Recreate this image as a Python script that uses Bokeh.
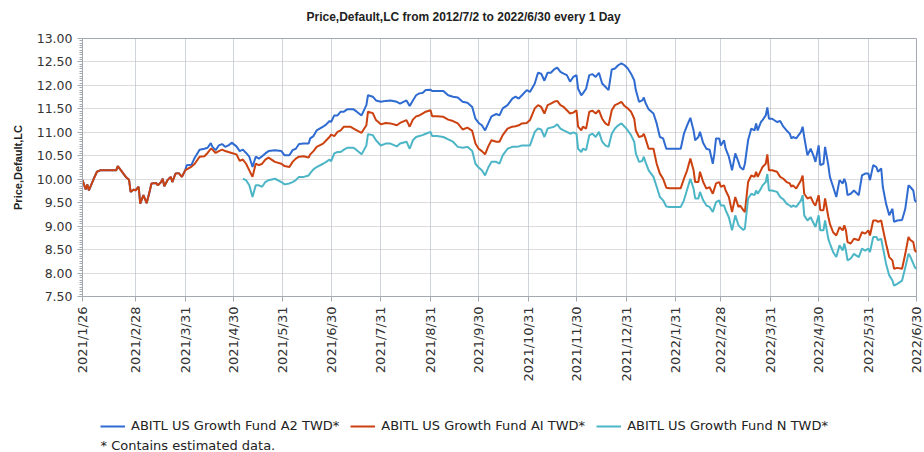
import math
from datetime import datetime
import pandas as pd
import numpy as np
from bokeh.plotting import figure
from bokeh.layouts import column
from bokeh.models import (ColumnDataSource, FixedTicker, SingleIntervalTicker, Legend, LegendItem,
                          Label, NumeralTickFormatter, Range1d)
from bokeh.embed import file_html
from bokeh.resources import INLINE

title_text = "Price,Default,LC from 2012/7/2 to 2022/6/30 every 1 Day"
y_title = "Price,Default,LC"
series_names = ["ABITL US Growth Fund A2 TWD*", "ABITL US Growth Fund AI TWD*", "ABITL US Growth Fund N TWD*"]
footnote = "*  Contains estimated data."

tick_dates = ["2021-01-26", "2021-02-28", "2021-03-31", "2021-04-30", "2021-05-31", "2021-06-30",
              "2021-07-31", "2021-08-31", "2021-09-30", "2021-10-31", "2021-11-30", "2021-12-31",
              "2022-01-31", "2022-02-28", "2022-03-31", "2022-04-30", "2022-05-31", "2022-06-30"]
tick_labels = ["2021/1/26", "2021/2/28", "2021/3/31", "2021/4/30", "2021/5/31", "2021/6/30",
               "2021/7/31", "2021/8/31", "2021/9/30", "2021/10/31", "2021/11/30", "2021/12/31",
               "2022/1/31", "2022/2/28", "2022/3/31", "2022/4/30", "2022/5/31", "2022/6/30"]

dates = [
    "2021-01-26", "2021-01-28", "2021-01-29", "2021-01-30",
    "2021-02-02", "2021-02-04", "2021-02-06", "2021-02-11", "2021-02-16", "2021-02-17", "2021-02-19", "2021-02-22", "2021-02-24", "2021-02-25", "2021-02-27", "2021-02-28",
    "2021-03-02", "2021-03-03", "2021-03-05", "2021-03-07", "2021-03-09", "2021-03-10", "2021-03-13", "2021-03-14", "2021-03-16", "2021-03-17", "2021-03-18", "2021-03-20", "2021-03-22", "2021-03-23", "2021-03-25", "2021-03-27", "2021-03-29", "2021-03-31",
    "2021-04-01", "2021-04-04", "2021-04-06", "2021-04-09", "2021-04-12", "2021-04-14", "2021-04-16", "2021-04-17", "2021-04-19", "2021-04-21", "2021-04-23", "2021-04-25", "2021-04-27", "2021-04-29",
    "2021-05-02", "2021-05-04", "2021-05-06", "2021-05-08", "2021-05-10", "2021-05-12", "2021-05-14", "2021-05-16", "2021-05-18", "2021-05-20", "2021-05-22", "2021-05-26", "2021-05-30",
    "2021-06-01", "2021-06-04", "2021-06-06", "2021-06-08", "2021-06-10", "2021-06-13", "2021-06-16", "2021-06-17", "2021-06-19", "2021-06-21", "2021-06-25", "2021-06-27", "2021-06-29", "2021-06-30",
    "2021-07-02", "2021-07-04", "2021-07-06", "2021-07-08", "2021-07-10", "2021-07-12", "2021-07-14", "2021-07-16", "2021-07-19", "2021-07-22", "2021-07-23", "2021-07-26", "2021-07-28", "2021-07-31",
    "2021-08-03", "2021-08-06", "2021-08-10", "2021-08-12", "2021-08-16", "2021-08-18", "2021-08-20", "2021-08-22", "2021-08-24", "2021-08-26", "2021-08-28", "2021-08-31",
    "2021-09-01", "2021-09-04", "2021-09-08", "2021-09-11", "2021-09-14", "2021-09-17", "2021-09-20", "2021-09-23", "2021-09-26", "2021-09-28", "2021-09-30",
    "2021-10-02", "2021-10-04", "2021-10-06", "2021-10-08", "2021-10-11", "2021-10-13", "2021-10-15", "2021-10-18", "2021-10-21", "2021-10-23", "2021-10-25", "2021-10-27", "2021-10-30",
    "2021-11-01", "2021-11-04", "2021-11-06", "2021-11-08", "2021-11-10", "2021-11-12", "2021-11-14", "2021-11-16", "2021-11-18", "2021-11-20", "2021-11-22", "2021-11-24", "2021-11-26", "2021-11-28", "2021-11-30",
    "2021-12-01", "2021-12-03", "2021-12-04", "2021-12-06", "2021-12-08", "2021-12-10", "2021-12-12", "2021-12-14", "2021-12-16", "2021-12-18", "2021-12-20", "2021-12-22", "2021-12-24", "2021-12-26", "2021-12-28", "2021-12-30",
    "2022-01-01", "2022-01-03", "2022-01-05", "2022-01-06", "2022-01-08", "2022-01-10", "2022-01-11", "2022-01-12", "2022-01-14", "2022-01-17", "2022-01-19", "2022-01-21", "2022-01-23", "2022-01-25", "2022-01-27", "2022-01-31",
    "2022-02-03", "2022-02-05", "2022-02-07", "2022-02-09", "2022-02-11", "2022-02-12", "2022-02-14", "2022-02-15", "2022-02-17", "2022-02-19", "2022-02-21", "2022-02-23", "2022-02-24", "2022-02-25", "2022-02-27", "2022-02-28",
    "2022-03-02", "2022-03-03", "2022-03-05", "2022-03-07", "2022-03-09", "2022-03-11", "2022-03-12", "2022-03-14", "2022-03-15", "2022-03-17", "2022-03-19", "2022-03-21", "2022-03-22", "2022-03-23", "2022-03-25", "2022-03-26", "2022-03-28", "2022-03-29", "2022-03-30",
    "2022-04-01", "2022-04-04", "2022-04-06", "2022-04-08", "2022-04-10", "2022-04-12", "2022-04-13", "2022-04-14", "2022-04-16", "2022-04-19", "2022-04-20", "2022-04-21", "2022-04-23", "2022-04-25", "2022-04-27", "2022-04-28", "2022-04-30",
    "2022-05-01", "2022-05-03", "2022-05-04", "2022-05-06", "2022-05-07", "2022-05-09", "2022-05-11", "2022-05-13", "2022-05-15", "2022-05-16", "2022-05-17", "2022-05-18", "2022-05-20", "2022-05-22", "2022-05-25", "2022-05-27", "2022-05-29", "2022-05-31",
    "2022-06-01", "2022-06-03", "2022-06-05", "2022-06-06", "2022-06-08", "2022-06-09", "2022-06-11", "2022-06-13", "2022-06-15", "2022-06-16", "2022-06-18", "2022-06-21", "2022-06-23", "2022-06-25", "2022-06-26", "2022-06-28", "2022-06-29", "2022-06-30",
]

a2 = [
    9.98, 9.78, 9.89, 9.76,
    10.01, 10.16, 10.19, 10.19, 10.19, 10.28, 10.19, 10.05, 9.99, 9.73, 9.78, 9.76,
    9.84, 9.48, 9.66, 9.49, 9.76, 9.91, 9.92, 9.87, 9.94, 10.01, 9.85, 9.98, 10.05, 9.94, 10.12, 10.13, 10.05, 10.19,
    10.30, 10.31, 10.46, 10.63, 10.65, 10.67, 10.77, 10.69, 10.62, 10.72, 10.75, 10.69, 10.72, 10.78,
    10.70, 10.60, 10.63, 10.56, 10.48, 10.26, 10.48, 10.44, 10.49, 10.55, 10.60, 10.62, 10.60,
    10.51, 10.51, 10.62, 10.65, 10.75, 10.76, 10.76, 10.87, 10.92, 11.04, 11.12, 11.17, 11.24, 11.22,
    11.36, 11.36, 11.44, 11.44, 11.49, 11.49, 11.49, 11.44, 11.36, 11.58, 11.79, 11.76, 11.68, 11.65,
    11.67, 11.68, 11.65, 11.61, 11.68, 11.56, 11.68, 11.79, 11.83, 11.84, 11.90, 11.91,
    11.88, 11.88, 11.88, 11.79, 11.76, 11.74, 11.65, 11.63, 11.54, 11.29, 11.20,
    11.15, 11.04, 11.19, 11.34, 11.39, 11.36, 11.51, 11.58, 11.72, 11.76, 11.72, 11.79, 11.90,
    11.86, 12.04, 12.27, 12.25, 12.10, 12.27, 12.27, 12.34, 12.38, 12.29, 12.25, 12.22, 12.08, 12.18, 12.22,
    11.93, 11.79, 11.83, 11.93, 12.22, 12.24, 12.18, 12.27, 12.04, 11.97, 11.90, 12.34, 12.36, 12.43, 12.47, 12.43,
    12.36, 12.25, 12.11, 11.90, 11.65, 11.68, 11.74, 11.63, 11.49, 11.40, 11.19, 10.90, 10.87, 10.65, 10.65, 10.65,
    10.65, 10.97, 11.15, 11.31, 11.04, 10.83, 10.90, 11.01, 10.77, 10.65, 10.63, 10.33, 10.55, 10.87, 10.87, 10.72,
    10.83, 10.65, 10.48, 10.19, 10.55, 10.37, 10.26, 10.20, 10.33, 10.83, 11.08, 11.04, 11.19, 11.04, 11.22, 11.26, 11.36, 11.53, 11.29,
    11.29, 11.22, 11.24, 11.12, 11.04, 10.97, 10.87, 10.90, 10.87, 11.01, 11.12, 10.90, 10.51, 10.65, 10.48, 10.37, 10.72,
    10.30, 10.33, 10.69, 10.30, 10.05, 9.84, 9.62, 9.98, 9.91, 10.01, 9.91, 9.66, 9.69, 9.76, 9.66, 10.08, 10.12, 10.12,
    9.98, 10.30, 10.26, 10.16, 10.23, 9.84, 9.48, 9.23, 9.37, 9.09, 9.12, 9.13, 9.37, 9.87, 9.84, 9.76, 9.55, 9.51,
]

ai = [
    9.98, 9.78, 9.89, 9.76,
    10.01, 10.16, 10.19, 10.19, 10.19, 10.28, 10.19, 10.05, 9.99, 9.73, 9.78, 9.76,
    9.84, 9.48, 9.66, 9.49, 9.76, 9.91, 9.92, 9.87, 9.94, 10.01, 9.85, 9.98, 10.05, 9.94, 10.12, 10.13, 10.05, 10.19,
    10.21, 10.27, 10.33, 10.48, 10.49, 10.56, 10.65, 10.63, 10.56, 10.60, 10.63, 10.60, 10.58, 10.56,
    10.53, 10.39, 10.42, 10.33, 10.19, 10.05, 10.33, 10.30, 10.33, 10.42, 10.46, 10.37, 10.33,
    10.28, 10.26, 10.37, 10.44, 10.48, 10.49, 10.46, 10.53, 10.60, 10.69, 10.76, 10.83, 10.90, 10.95,
    10.92, 11.01, 11.04, 11.12, 11.12, 11.12, 11.08, 11.04, 10.99, 11.15, 11.44, 11.41, 11.26, 11.17,
    11.20, 11.19, 11.15, 11.20, 11.26, 11.12, 11.27, 11.34, 11.36, 11.40, 11.44, 11.47,
    11.34, 11.34, 11.33, 11.27, 11.24, 11.19, 11.06, 11.10, 11.03, 10.76, 10.65,
    10.60, 10.53, 10.70, 10.83, 10.80, 10.80, 10.94, 11.08, 11.12, 11.13, 11.15, 11.19, 11.20,
    11.26, 11.51, 11.58, 11.54, 11.40, 11.58, 11.61, 11.65, 11.67, 11.58, 11.54, 11.47, 11.40, 11.42, 11.47,
    11.12, 11.04, 11.12, 11.08, 11.44, 11.46, 11.40, 11.47, 11.29, 11.19, 11.15, 11.47, 11.58, 11.61, 11.65, 11.56,
    11.51, 11.44, 11.29, 11.04, 10.90, 10.92, 10.97, 10.87, 10.65, 10.65, 10.33, 10.12, 10.01, 9.82, 9.81, 9.81,
    9.81, 10.01, 10.19, 10.44, 10.19, 9.94, 9.94, 10.16, 9.94, 9.80, 9.83, 9.69, 9.80, 9.91, 9.94, 9.84,
    9.87, 9.76, 9.62, 9.30, 9.62, 9.41, 9.44, 9.34, 9.30, 9.94, 10.08, 10.05, 10.16, 10.05, 10.19, 10.26, 10.33, 10.53, 10.19,
    10.19, 10.16, 10.05, 10.01, 9.94, 9.91, 9.84, 9.87, 9.80, 9.98, 10.08, 9.69, 9.59, 9.62, 9.48, 9.44, 9.66,
    9.34, 9.34, 9.59, 9.20, 9.05, 8.87, 8.80, 8.98, 8.91, 9.02, 8.91, 8.66, 8.63, 8.73, 8.70, 8.87, 8.84, 8.91,
    8.80, 9.12, 9.12, 9.09, 9.12, 8.95, 8.63, 8.34, 8.27, 8.09, 8.11, 8.09, 8.41, 8.77, 8.71, 8.66, 8.48, 8.45,
]

n = [
    None, None, None, None,
    None, None, None, None, None, None, None, None, None, None, None, None,
    None, None, None, None, None, None, None, None, None, None, None, None, None, None, None, None, None, None,
    None, None, None, None, None, None, None, None, None, None, None, None, None, None,
    None, None, 10.01, 9.98, 9.87, 9.62, 9.87, 9.87, 9.84, 9.94, 9.98, 10.01, 9.94,
    9.89, 9.91, 9.94, 9.98, 10.05, 10.05, 10.08, 10.13, 10.21, 10.26, 10.33, 10.37, 10.42, 10.38,
    10.55, 10.58, 10.58, 10.63, 10.67, 10.67, 10.67, 10.62, 10.53, 10.72, 10.96, 10.94, 10.83, 10.72,
    10.76, 10.76, 10.70, 10.76, 10.80, 10.65, 10.83, 10.90, 10.92, 10.94, 10.97, 11.01,
    10.92, 10.92, 10.90, 10.85, 10.80, 10.69, 10.67, 10.69, 10.60, 10.33, 10.25,
    10.19, 10.08, 10.25, 10.37, 10.37, 10.33, 10.51, 10.65, 10.69, 10.69, 10.70, 10.72, 10.72,
    10.72, 11.01, 11.08, 11.06, 10.90, 11.08, 11.10, 11.12, 11.17, 11.08, 11.04, 11.01, 10.97, 11.00, 10.97,
    10.65, 10.58, 10.65, 10.62, 10.94, 10.97, 10.90, 11.01, 10.80, 10.72, 10.69, 10.97, 11.08, 11.15, 11.19, 11.12,
    11.04, 10.94, 10.80, 10.55, 10.37, 10.39, 10.48, 10.37, 10.19, 10.05, 9.84, 9.62, 9.55, 9.42, 9.41, 9.41,
    9.41, 9.55, 9.78, 10.01, 9.80, 9.59, 9.59, 9.73, 9.55, 9.44, 9.41, 9.30, 9.41, 9.51, 9.55, 9.44,
    9.44, 9.34, 9.19, 8.91, 9.23, 9.02, 8.98, 8.92, 8.95, 9.59, 9.69, 9.66, 9.76, 9.69, 9.80, 9.87, 9.94, 10.11, 9.76,
    9.76, 9.73, 9.62, 9.57, 9.48, 9.44, 9.41, 9.44, 9.41, 9.55, 9.66, 9.23, 9.12, 9.19, 9.05, 8.98, 9.23,
    8.91, 8.91, 9.12, 8.73, 8.63, 8.45, 8.34, 8.59, 8.48, 8.63, 8.48, 8.27, 8.31, 8.41, 8.34, 8.52, 8.48, 8.52,
    8.45, 8.77, 8.77, 8.70, 8.73, 8.55, 8.20, 7.95, 7.84, 7.73, 7.77, 7.84, 8.12, 8.41, 8.36, 8.20, 8.12, 8.09,
]

assert len(dates) == len(a2) == len(ai) == len(n), (len(dates), len(a2), len(ai), len(n))

colors = ["#2f6bd0", "#cc4110", "#4cb6c6"]
text_color = "#222222"

src = ColumnDataSource(dict(
    x=pd.to_datetime(dates),
    a2=np.array(a2, dtype=float),
    ai=np.array(ai, dtype=float),
    n=np.array([np.nan if v is None else v for v in n], dtype=float),
))

# ---------- header strip with the title (frames are aligned with the main chart) ----------
head = figure(width=924, height=26, output_backend="svg", toolbar_location=None,
              x_range=Range1d(0, 1), y_range=Range1d(0, 1), min_border=0,
              x_axis_location=None, y_axis_location=None)
head.grid.visible = False
head.outline_line_color = None
head.add_layout(Label(x=224, y=10, x_units="screen", y_units="screen", text=title_text,
                     text_baseline="middle", text_font="Liberation Sans", text_font_size="12px",
                     text_font_style="bold", text_color=text_color))

# ---------- main chart ----------
p = figure(width=924, height=366, x_axis_type="datetime", output_backend="svg", toolbar_location=None,
           x_range=Range1d(datetime(2021, 1, 26), datetime(2022, 6, 30)), y_range=Range1d(7.5, 13.0),
           min_border_left=82, min_border_right=8, min_border_top=12, min_border_bottom=96)

p.background_fill_color = "white"
p.border_fill_color = "white"
p.outline_line_color = "#a4a8b0"

r1 = p.line("x", "a2", source=src, line_color=colors[0], line_width=2)
r2 = p.line("x", "ai", source=src, line_color=colors[1], line_width=2)
r3 = p.line("x", "n", source=src, line_color=colors[2], line_width=2)

tick_ms = [int(pd.Timestamp(d).value // 10**6) for d in tick_dates]
xticker = FixedTicker(ticks=tick_ms)
p.xaxis.ticker = xticker
p.xgrid.ticker = xticker
p.xaxis.major_label_overrides = {ms: lab for ms, lab in zip(tick_ms, tick_labels)}
p.xaxis.major_label_orientation = math.pi / 2
p.xaxis.major_label_text_font = "DejaVu Sans"
p.xaxis.major_label_text_font_size = "13px"
p.xaxis.major_label_text_color = "#333333"
p.xaxis.axis_line_color = "#a4a8b0"
p.xaxis.major_tick_line_color = "#a4a8b0"
p.xaxis.major_tick_out = 5
p.xaxis.major_tick_in = 0
p.xaxis.minor_tick_line_color = None

yticker = SingleIntervalTicker(interval=0.5, num_minor_ticks=10)
p.yaxis.ticker = yticker
p.ygrid.ticker = yticker
p.yaxis.formatter = NumeralTickFormatter(format="0.00")
p.yaxis.axis_label = y_title
p.yaxis.axis_label_text_font = "Liberation Sans"
p.yaxis.axis_label_text_font_size = "11px"
p.yaxis.axis_label_text_font_style = "bold"
p.yaxis.axis_label_text_color = text_color
p.yaxis.axis_label_standoff = 10
p.yaxis.major_label_text_font = "DejaVu Sans"
p.yaxis.major_label_text_font_size = "12.5px"
p.yaxis.major_label_text_color = "#333333"
p.yaxis.axis_line_color = "#a4a8b0"
p.yaxis.major_tick_line_color = "#a4a8b0"
p.yaxis.minor_tick_line_color = "#a4a8b0"
p.yaxis.major_tick_out = 5
p.yaxis.major_tick_in = 0
p.yaxis.minor_tick_out = 3
p.yaxis.minor_tick_in = 0

p.xgrid.grid_line_color = "#9ea6b4"
p.xgrid.grid_line_dash = "1 1"
p.xgrid.grid_line_width = 1
p.ygrid.grid_line_color = "#b8b8b8"
p.ygrid.grid_line_dash = "1 1"
p.ygrid.grid_line_width = 1

# ---------- footer strip with legend and note (frame aligned with the main chart) ----------
foot = figure(width=924, height=60, output_backend="svg", toolbar_location=None,
              x_range=Range1d(0, 1), y_range=Range1d(0, 1), min_border=0,
              x_axis_location=None, y_axis_location=None)
foot.grid.visible = False
foot.outline_line_color = None
nan_src = ColumnDataSource(dict(x=[np.nan], y=[np.nan]))
k1 = foot.line("x", "y", source=nan_src, line_color=colors[0], line_width=2)
k2 = foot.line("x", "y", source=nan_src, line_color=colors[1], line_width=2)
k3 = foot.line("x", "y", source=nan_src, line_color=colors[2], line_width=2)

legend = Legend(items=[LegendItem(label=series_names[0], renderers=[k1]),
                       LegendItem(label=series_names[1], renderers=[k2]),
                       LegendItem(label=series_names[2], renderers=[k3])],
                orientation="horizontal", location=(18, 19),
                glyph_width=25, glyph_height=14, label_standoff=6, spacing=11,
                padding=0, margin=0, border_line_color=None, background_fill_alpha=0,
                label_text_font="DejaVu Sans", label_text_font_size="13px", label_text_color=text_color)
foot.add_layout(legend)

foot.add_layout(Label(x=18, y=7, x_units="screen", y_units="screen", text=footnote,
                      text_baseline="middle", text_font="DejaVu Sans", text_font_size="13px",
                      text_color=text_color))

layout = column(head, p, foot, spacing=0)
open("out.html", "w").write(file_html(layout, INLINE))
